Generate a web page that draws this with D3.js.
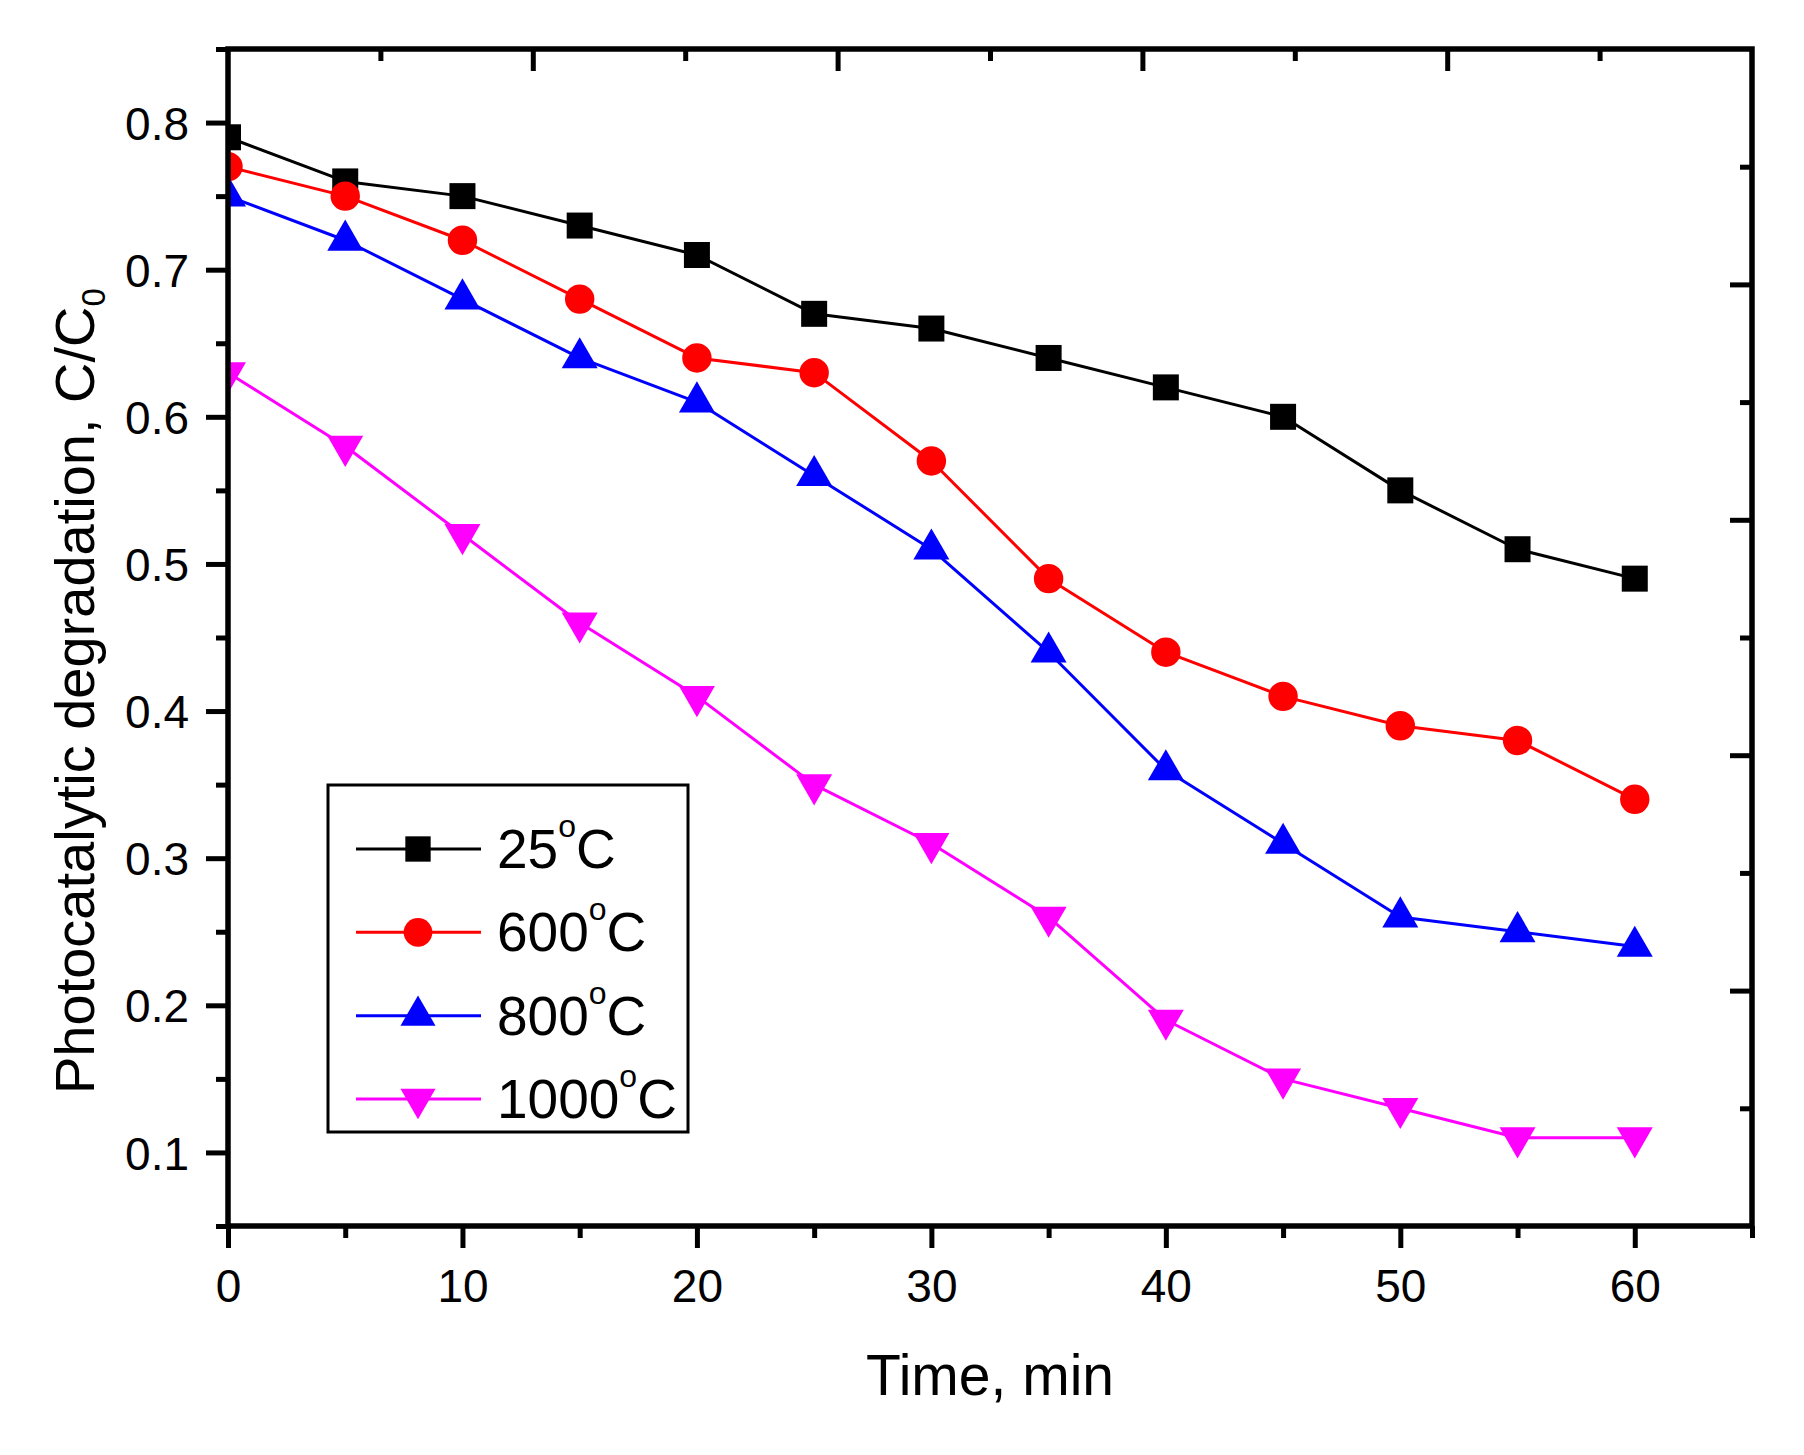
<!DOCTYPE html>
<html>
<head>
<meta charset="utf-8">
<script src="https://cdn.jsdelivr.net/npm/d3@7"></script>
<style>
  body { margin: 0; background: #fff; }
  svg { display: block; }
  text { font-family: "Liberation Sans", Arial, sans-serif; fill: #000; }
</style>
</head>
<body>
<svg id="chart" width="1804" height="1455"></svg>
<script>
// ─── Data ──────────────────────────────────────────────────────────────────
const times      = [0, 5, 10, 15, 20, 25, 30, 35, 40, 45, 50, 55, 60];
const temp25     = [0.79, 0.76, 0.75, 0.73, 0.71, 0.67, 0.66, 0.64, 0.62, 0.60, 0.55, 0.51, 0.49];
const temp600    = [0.77, 0.75, 0.72, 0.68, 0.64, 0.63, 0.57, 0.49, 0.44, 0.41, 0.39, 0.38, 0.34];
const temp800    = [0.75, 0.72, 0.68, 0.64, 0.61, 0.56, 0.51, 0.44, 0.36, 0.31, 0.26, 0.25, 0.24];
const temp1000   = [0.63, 0.58, 0.52, 0.46, 0.41, 0.35, 0.31, 0.26, 0.19, 0.15, 0.13, 0.11, 0.11];
const seriesLabels = ['25', '600', '800', '1000'];
const xMajorTicks = [0, 10, 20, 30, 40, 50, 60];
const xMinorTicks = [5, 15, 25, 35, 45, 55, 65];
const yMajorTicks = [0.1, 0.2, 0.3, 0.4, 0.5, 0.6, 0.7, 0.8];
const yMinorTicks = [0.05, 0.15, 0.25, 0.35, 0.45, 0.55, 0.65, 0.75, 0.85];

// ─── Layout ────────────────────────────────────────────────────────────────
const M = { left: 228, right: 1752, top: 49, bottom: 1226 };
const FONT_TICK = 46;
const AXIS_W = 5.5;

const svg = d3.select('#chart');
svg.append('rect').attr('width', 1804).attr('height', 1455).attr('fill', '#fff');

const x = d3.scaleLinear().domain([0, 65]).range([M.left, M.right]);
const y = d3.scaleLinear().domain([0.05, 0.85]).range([M.bottom, M.top]);
// top / right mirror axes are split into ten equal divisions
const xMirror = d3.scaleLinear().domain([0, 10]).range([M.left, M.right]);
const yMirror = d3.scaleLinear().domain([0, 10]).range([M.bottom, M.top]);

const series = [
  { label: seriesLabels[0], values: temp25,   color: '#000000', symbol: d3.symbolSquare,   size: 676, rot: 0 },
  { label: seriesLabels[1], values: temp600,  color: '#ff0000', symbol: d3.symbolCircle,   size: 680, rot: 0 },
  { label: seriesLabels[2], values: temp800,  color: '#0000ff', symbol: d3.symbolTriangle, size: 561, rot: 0 },
  { label: seriesLabels[3], values: temp1000, color: '#ff00ff', symbol: d3.symbolTriangle, size: 561, rot: 180 }
];

// ─── Data layer (clipped to the frame, like the original) ─────────────────
svg.append('clipPath').attr('id', 'plot-clip')
  .append('rect')
    .attr('x', M.left).attr('y', M.top)
    .attr('width', M.right - M.left).attr('height', M.bottom - M.top);

const gData = svg.append('g').attr('clip-path', 'url(#plot-clip)');

const line = d3.line()
  .x((d, i) => x(times[i]))
  .y(d => y(d));

series.forEach(s => {
  const g = gData.append('g');
  g.append('path')
    .attr('d', line(s.values))
    .attr('fill', 'none')
    .attr('stroke', s.color)
    .attr('stroke-width', 3)
    .attr('stroke-linejoin', 'round');

  g.selectAll('path.marker')
    .data(s.values)
    .join('path')
      .attr('class', 'marker')
      .attr('d', d3.symbol().type(s.symbol).size(s.size))
      .attr('transform', (d, i) => `translate(${x(times[i])},${y(d)}) rotate(${s.rot})`)
      .attr('fill', s.color);
});

// ─── Axes ──────────────────────────────────────────────────────────────────
function styleAxis(g) {
  g.select('.domain').remove();
  g.selectAll('.tick line').attr('stroke', '#000').attr('stroke-width', 5);
  g.selectAll('.tick text')
    .attr('font-size', FONT_TICK)
    .attr('font-family', '"Liberation Sans", Arial, sans-serif')
    .attr('fill', '#000');
}

// bottom
svg.append('g').attr('transform', `translate(0,${M.bottom})`)
  .call(d3.axisBottom(x).tickValues(xMajorTicks).tickSize(22).tickPadding(21).tickFormat(d3.format('d')))
  .call(styleAxis);
svg.append('g').attr('transform', `translate(0,${M.bottom})`)
  .call(d3.axisBottom(x).tickValues(xMinorTicks).tickSize(12).tickFormat(''))
  .call(styleAxis);

// left
svg.append('g').attr('transform', `translate(${M.left},0)`)
  .call(d3.axisLeft(y).tickValues(yMajorTicks).tickSize(22).tickPadding(17).tickFormat(d3.format('.1f')))
  .call(styleAxis)
  .call(g => g.selectAll('.tick text').attr('dy', '0.36em'));
svg.append('g').attr('transform', `translate(${M.left},0)`)
  .call(d3.axisLeft(y).tickValues(yMinorTicks).tickSize(12).tickFormat(''))
  .call(styleAxis);

// top (ticks inward)
svg.append('g').attr('transform', `translate(0,${M.top})`)
  .call(d3.axisTop(xMirror).tickValues([2, 4, 6, 8]).tickSize(-22).tickFormat(''))
  .call(styleAxis);
svg.append('g').attr('transform', `translate(0,${M.top})`)
  .call(d3.axisTop(xMirror).tickValues([1, 3, 5, 7, 9]).tickSize(-12).tickFormat(''))
  .call(styleAxis);

// right (ticks inward)
svg.append('g').attr('transform', `translate(${M.right},0)`)
  .call(d3.axisRight(yMirror).tickValues([2, 4, 6, 8]).tickSize(-22).tickFormat(''))
  .call(styleAxis);
svg.append('g').attr('transform', `translate(${M.right},0)`)
  .call(d3.axisRight(yMirror).tickValues([1, 3, 5, 7, 9]).tickSize(-12).tickFormat(''))
  .call(styleAxis);

// frame
svg.append('rect')
  .attr('x', M.left).attr('y', M.top)
  .attr('width', M.right - M.left).attr('height', M.bottom - M.top)
  .attr('fill', 'none')
  .attr('stroke', '#000')
  .attr('stroke-width', AXIS_W);

// ─── Axis titles ───────────────────────────────────────────────────────────
svg.append('text')
  .attr('x', (M.left + M.right) / 2)
  .attr('y', 1395)
  .attr('text-anchor', 'middle')
  .attr('font-size', 57)
  .text('Time, min');

const yTitle = svg.append('text')
  .attr('transform', 'translate(94,1094) rotate(-90)')
  .attr('font-size', 56);
yTitle.append('tspan').text('Photocatalytic degradation, C/C');
yTitle.append('tspan').attr('font-size', 33).attr('dy', 11).text('0');

// ─── Legend ────────────────────────────────────────────────────────────────
const legend = svg.append('g');
legend.append('rect')
  .attr('x', 328).attr('y', 785)
  .attr('width', 360).attr('height', 347)
  .attr('fill', '#fff')
  .attr('stroke', '#000')
  .attr('stroke-width', 3);

const rowY = d3.scaleLinear().domain([0, 3]).range([849, 1099]);

series.forEach((s, i) => {
  const ry = rowY(i);
  const row = legend.append('g');
  row.append('line')
    .attr('x1', 356).attr('x2', 481)
    .attr('y1', ry).attr('y2', ry)
    .attr('stroke', s.color)
    .attr('stroke-width', 3);
  row.append('path')
    .attr('d', d3.symbol().type(s.symbol).size(s.size * 0.95))
    .attr('transform', `translate(418,${ry}) rotate(${s.rot})`)
    .attr('fill', s.color);
  const t = row.append('text')
    .attr('x', 497)
    .attr('y', ry + 19)
    .attr('font-size', 55);
  t.append('tspan').text(s.label);
  t.append('tspan').attr('font-size', 32).attr('dy', -31).text('o');
  t.append('tspan').attr('dy', 31).text('C');
});
</script>
</body>
</html>
